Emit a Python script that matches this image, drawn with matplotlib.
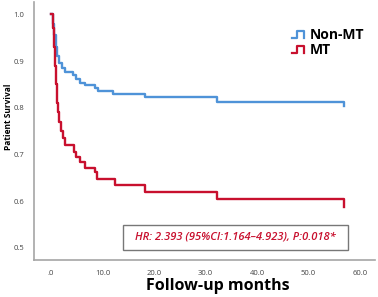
import matplotlib
matplotlib.use("Agg")
import matplotlib.pyplot as plt
from matplotlib.legend_handler import HandlerBase
from matplotlib.lines import Line2D
from matplotlib.patches import Rectangle

# Kaplan-Meier steps (months, survival)
non_mt_time = [0, 0.3, 0.6, 0.9, 1.2, 1.6, 2.1, 2.7, 4.2, 4.8, 5.6, 6.6, 8.5, 9.1, 12.1, 18.3, 32.2, 56.9]
non_mt_surv = [1.0, 0.98, 0.955, 0.93, 0.91, 0.895, 0.885, 0.876, 0.87, 0.861, 0.854, 0.848, 0.843, 0.835, 0.830, 0.822, 0.813, 0.803]

mt_time = [0, 0.3, 0.5, 0.7, 0.9, 1.1, 1.3, 1.6, 2.0, 2.4, 2.8, 4.4, 4.8, 5.6, 6.6, 8.6, 9.0, 12.4, 18.3, 32.2, 56.9]
mt_surv = [1.0, 0.97, 0.93, 0.89, 0.85, 0.81, 0.79, 0.77, 0.75, 0.735, 0.72, 0.705, 0.695, 0.683, 0.672, 0.662, 0.648, 0.635, 0.62, 0.605, 0.588]

x_ticks = [0, 10, 20, 30, 40, 50, 60]
y_ticks = [0.5, 0.6, 0.7, 0.8, 0.9, 1.0]

BLUE = "#4f93d8"
RED = "#c8102e"
GREY = "#a5a5a5"
FONT = ["Open Sans", "DejaVu Sans"]


class StepHandler(HandlerBase):
    def create_artists(self, legend, orig_handle, xdescent, ydescent,
                       width, height, fontsize, trans):
        w, h = width, height
        xs = [0, 0.45 * w, 0.45 * w, w, w]
        ys = [0.15 * h, 0.15 * h, 0.85 * h, 0.85 * h, 0.15 * h]
        line = Line2D([x - xdescent for x in xs], [y - ydescent for y in ys],
                      color=orig_handle.get_color(), lw=1.6, transform=trans)
        return [line]


def main() -> None:
    plt.rcParams["font.family"] = FONT
    fig = plt.figure(figsize=(3.78, 2.97), dpi=100)
    ax = fig.add_axes([0.09, 0.1246, 0.902, 0.868])

    ax.plot(non_mt_time, non_mt_surv, drawstyle="steps-post", color=BLUE, lw=1.7, label="Non-MT")
    ax.plot(mt_time, mt_surv, drawstyle="steps-post", color=RED, lw=1.7, label="MT")

    ax.set_xlim(-3.3, 62.9)
    ax.set_ylim(0.474, 1.026)
    ax.set_xticks(x_ticks)
    ax.set_xticklabels([".0" if v == 0 else f"{v:.1f}" for v in x_ticks])
    ax.set_yticks(y_ticks)
    ax.set_yticklabels([f"{v:.1f}" for v in y_ticks])
    ax.tick_params(length=0, labelsize=5.5, labelcolor="#444444", pad=7)

    for side in ("top", "right"):
        ax.spines[side].set_visible(False)
    for side in ("left", "bottom"):
        ax.spines[side].set_color(GREY)
        ax.spines[side].set_linewidth(1.2)

    handles, labels = ax.get_legend_handles_labels()
    ax.legend(handles, labels, handler_map={Line2D: StepHandler()},
              loc="upper left", bbox_to_anchor=(0.735, 0.925), frameon=False,
              prop={"weight": "bold", "size": 10}, handlelength=0.9,
              handletextpad=0.4, labelspacing=0.05, borderpad=0)

    ax.add_patch(Rectangle((0.261, 0.039), 0.66, 0.097, transform=ax.transAxes,
                           fill=False, edgecolor="#777777", lw=1.0))
    ax.text(0.591, 0.088, "HR: 2.393 (95%CI:1.164\u20134.923), P:0.018*",
            transform=ax.transAxes, ha="center", va="center", color=RED,
            fontsize=8, fontweight="semibold", fontstyle="italic")

    fig.text(218 / 378, 1 - 286 / 297, "Follow-up months", ha="center", va="center",
             fontsize=11.5, fontweight="bold")
    fig.text(9 / 378, 1 - 117 / 297, "Patient Survival", ha="center", va="center",
             rotation=90, fontsize=6, fontweight="bold")

    fig.savefig("out.png", dpi=100)


if __name__ == "__main__":
    main()
